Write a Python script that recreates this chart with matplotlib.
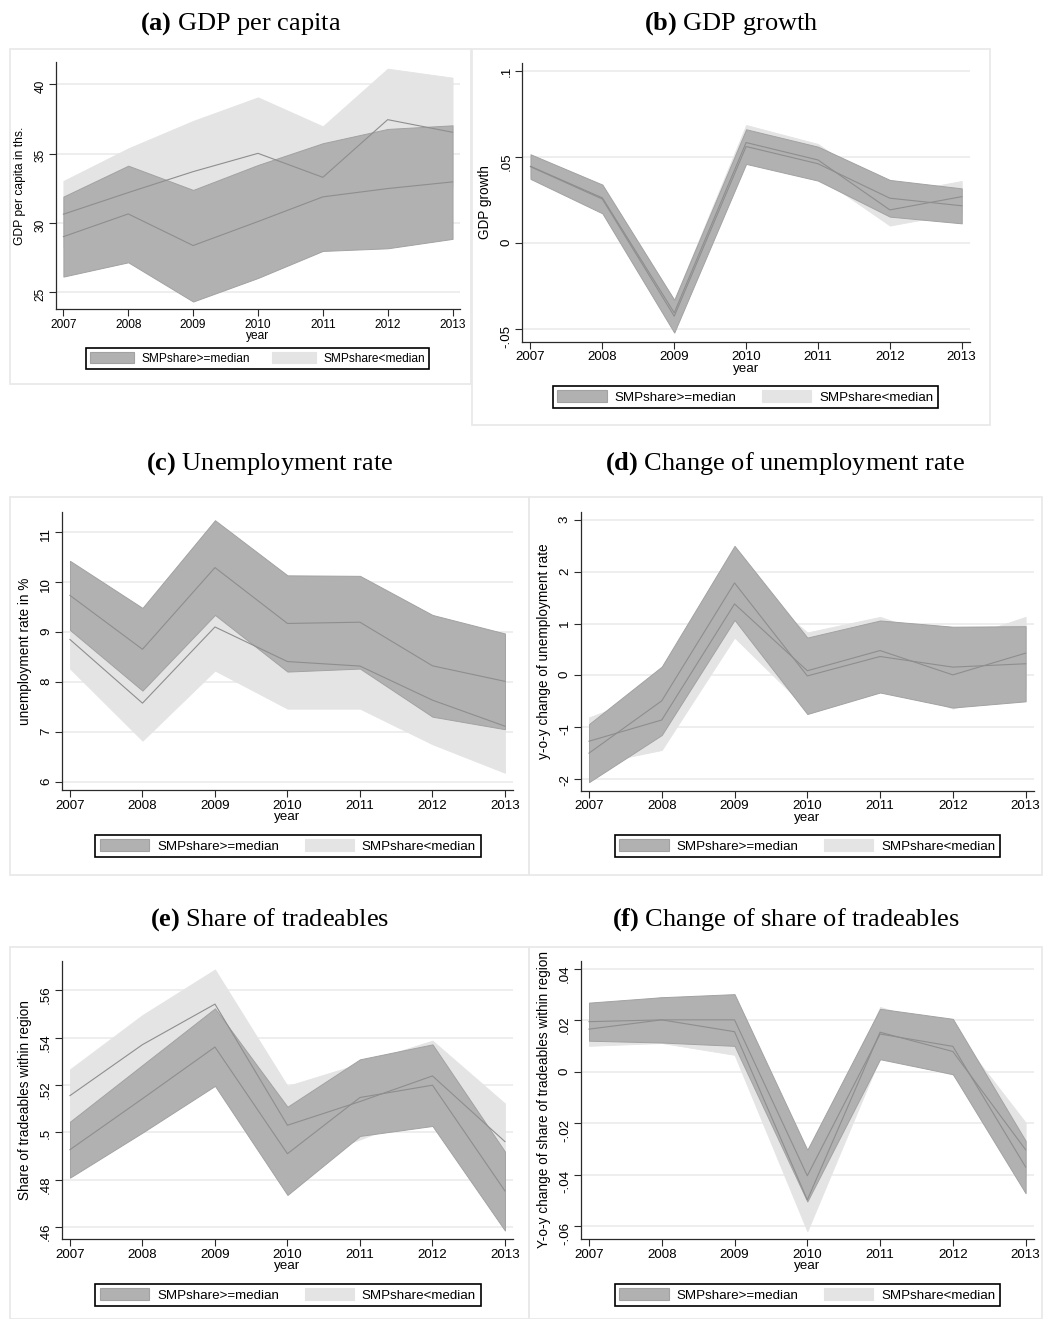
import matplotlib
matplotlib.use("Agg")
import matplotlib.pyplot as plt
from matplotlib.patches import Rectangle, Patch

W, H = 1043, 1319

plt.rcParams['font.family'] = ['Liberation Sans', 'DejaVu Sans']
plt.rcParams['mathtext.fontset'] = 'custom'
plt.rcParams['mathtext.rm'] = 'Liberation Serif'
plt.rcParams['mathtext.bf'] = 'Liberation Serif:bold'

years = [2007, 2008, 2009, 2010, 2011, 2012, 2013]
group_labels = ['SMPshare>=median', 'SMPshare<median']

# (a) GDP per capita, thousands
gdp_above_lo = [26.13, 27.16, 24.33, 26.03, 27.98, 28.17, 28.85]
gdp_above_up = [31.90, 34.13, 32.38, 34.18, 35.75, 36.78, 37.04]
gdp_above_mean = [29.01, 30.65, 28.37, 30.10, 31.88, 32.48, 32.96]
gdp_below_lo = [28.23, 29.00, 30.04, 30.98, 29.61, 33.77, 32.60]
gdp_below_up = [33.03, 35.38, 37.36, 39.06, 36.97, 41.13, 40.48]
gdp_below_mean = [30.63, 32.19, 33.70, 35.02, 33.29, 37.45, 36.54]
gdp_ticks = [25, 30, 35, 40]
gdp_ticklabels = ['25', '30', '35', '40']

# (b) GDP growth
gro_above_lo = [0.0372, 0.0172, -0.0520, 0.0459, 0.0362, 0.0153, 0.0114]
gro_above_up = [0.0515, 0.0339, -0.0330, 0.0660, 0.0559, 0.0366, 0.0317]
gro_above_mean = [0.0443, 0.0255, -0.0425, 0.0560, 0.0460, 0.0260, 0.0216]
gro_below_lo = [0.0385, 0.0192, -0.0480, 0.0481, 0.0389, 0.0101, 0.0178]
gro_below_up = [0.0505, 0.0332, -0.0330, 0.0685, 0.0575, 0.0283, 0.0360]
gro_below_mean = [0.0445, 0.0262, -0.0405, 0.0583, 0.0482, 0.0192, 0.0269]
gro_ticks = [-0.05, 0, 0.05, 0.1]
gro_ticklabels = ['-.05', '0', '.05', '.1']

# (c) unemployment rate
ur_above_lo = [9.04, 7.83, 9.34, 8.21, 8.27, 7.31, 7.06]
ur_above_up = [10.42, 9.48, 11.23, 10.13, 10.12, 9.34, 8.97]
ur_above_mean = [9.73, 8.655, 10.285, 9.17, 9.195, 8.325, 8.015]
ur_below_lo = [8.27, 6.83, 8.23, 7.47, 7.47, 6.76, 6.19]
ur_below_up = [9.43, 8.33, 9.97, 9.35, 9.17, 8.52, 8.05]
ur_below_mean = [8.85, 7.58, 9.10, 8.41, 8.32, 7.64, 7.12]
ur_ticks = [6, 7, 8, 9, 10, 11]
ur_ticklabels = ['6', '7', '8', '9', '10', '11']

# (d) y-o-y change of unemployment rate
dur_above_lo = [-2.06, -1.15, 1.07, -0.745, -0.33, -0.62, -0.50]
dur_above_up = [-0.94, 0.17, 2.50, 0.73, 1.06, 0.94, 0.95]
dur_above_mean = [-1.50, -0.49, 1.785, -0.01, 0.365, 0.16, 0.225]
dur_below_lo = [-1.73, -1.44, 0.73, -0.65, -0.17, -0.64, -0.27]
dur_below_up = [-0.81, -0.28, 2.03, 0.83, 1.13, 0.66, 1.13]
dur_below_mean = [-1.27, -0.86, 1.38, 0.09, 0.48, 0.01, 0.43]
dur_ticks = [-2, -1, 0, 1, 2, 3]
dur_ticklabels = ['-2', '-1', '0', '1', '2', '3']

# (e) share of tradeables
tr_above_lo = [0.4809, 0.4999, 0.5196, 0.4736, 0.4985, 0.5027, 0.4586]
tr_above_up = [0.5045, 0.5284, 0.5523, 0.5108, 0.5308, 0.5371, 0.4919]
tr_above_mean = [0.4927, 0.5142, 0.5360, 0.4910, 0.5147, 0.5199, 0.4753]
tr_below_lo = [0.5044, 0.5245, 0.5395, 0.4864, 0.4970, 0.5089, 0.4800]
tr_below_up = [0.5266, 0.5495, 0.5687, 0.5196, 0.5290, 0.5387, 0.5122]
tr_below_mean = [0.5155, 0.5370, 0.5541, 0.5030, 0.5130, 0.5238, 0.4961]
tr_ticks = [0.46, 0.48, 0.50, 0.52, 0.54, 0.56]
tr_ticklabels = ['.46', '.48', '.5', '.52', '.54', '.56']

# (f) y-o-y change of share of tradeables
dtr_above_lo = [0.0121, 0.0114, 0.0101, -0.0504, 0.0049, -0.0009, -0.0472]
dtr_above_up = [0.0269, 0.0290, 0.0302, -0.0303, 0.0245, 0.0206, -0.0268]
dtr_above_mean = [0.0195, 0.0202, 0.0202, -0.0404, 0.0147, 0.0099, -0.0370]
dtr_below_lo = [0.0101, 0.0112, 0.0066, -0.0620, 0.0056, -0.0011, -0.0409]
dtr_below_up = [0.0231, 0.0292, 0.0246, -0.0376, 0.0252, 0.0169, -0.0197]
dtr_below_mean = [0.0166, 0.0202, 0.0156, -0.0498, 0.0154, 0.0079, -0.0303]
dtr_ticks = [-0.06, -0.04, -0.02, 0, 0.02, 0.04]
dtr_ticklabels = ['-.06', '-.04', '-.02', '0', '.02', '.04']

DARK = '#b1b1b1'
DARK_EDGE = '#a2a2a2'
LIGHT = '#e4e4e4'
LINE = '#8e8e8e'
FRAME = '#e9e9e9'


def fig_rect(l, t, r, b):
    return [l / W, 1 - b / H, (r - l) / W, (b - t) / H]


fig = plt.figure(figsize=(W / 100, H / 100), dpi=100)
fig.patch.set_facecolor('white')


def panel(frame, axpx, title, title_y, ylabel, ylim, ticks, ticklabels,
          above, below, legend_px, scale=1.0):
    fl, ft, fr, fb = frame
    fig.add_artist(Rectangle((fl / W, 1 - fb / H), (fr - fl) / W, (fb - ft) / H,
                             transform=fig.transFigure, fill=False,
                             edgecolor=FRAME, lw=1.3))
    fig.text((fl + fr) / 2 / W, 1 - title_y / H, title, ha='center',
             va='baseline', fontsize=19, family='Liberation Serif')

    ax = fig.add_axes(fig_rect(*axpx))
    ax.set_facecolor('none')
    lo_a, up_a, m_a = above
    lo_b, up_b, m_b = below
    ax.fill_between(years, lo_b, up_b, facecolor=LIGHT, edgecolor=LIGHT,
                    lw=0.6, zorder=2)
    ax.fill_between(years, lo_a, up_a, facecolor=DARK, edgecolor=DARK_EDGE,
                    lw=0.7, zorder=3)
    ax.plot(years, m_b, color=LINE, lw=0.8, zorder=4)
    ax.plot(years, m_a, color=LINE, lw=0.8, zorder=4)

    ax.set_xlim(2006.886, 2013.115)
    ax.set_ylim(*ylim)
    ax.set_xticks(years)
    ax.set_xticklabels([str(y) for y in years])
    ax.set_yticks(ticks)
    ax.set_yticklabels(ticklabels)
    ax.yaxis.grid(True, color='#ebebeb', lw=1.2)
    ax.set_axisbelow(True)
    for side in ('top', 'right'):
        ax.spines[side].set_visible(False)
    for side in ('left', 'bottom'):
        ax.spines[side].set_color('#2a2a2a')
        ax.spines[side].set_linewidth(0.9)
    fs = 9.6 * scale
    ax.tick_params(axis='both', direction='out', length=5, width=0.8,
                   color='#2a2a2a', labelsize=fs, pad=2)
    ax.tick_params(axis='y', labelrotation=90)

    axw = axpx[2] - axpx[0]
    axh = axpx[3] - axpx[1]
    ax.set_ylabel(ylabel, fontsize=9.8 * scale)
    ax.yaxis.set_label_coords(-30 / axw, 0.5)
    ax.set_xlabel('year', fontsize=fs)
    ax.xaxis.set_label_coords(0.5, -21 / axh)

    handles = [Patch(facecolor=DARK, edgecolor=DARK_EDGE, lw=0.8),
               Patch(facecolor=LIGHT, edgecolor=LIGHT, lw=0.8)]
    ll, lt, lr, lb = legend_px
    leg = ax.legend(handles, group_labels, ncol=2, loc='center',
                    bbox_to_anchor=((ll + lr) / 2 / W, 1 - (lt + lb) / 2 / H),
                    bbox_transform=fig.transFigure, frameon=True,
                    fancybox=False, edgecolor='black', framealpha=1,
                    fontsize=9.6 * scale, handlelength=3.7, handleheight=1.0,
                    handletextpad=0.6, columnspacing=1.9, borderpad=0.35,
                    borderaxespad=0)
    leg.get_frame().set_linewidth(1.2)
    return ax


panel((10, 49, 471, 384), (56, 61.7, 460, 309.3),
      r'$\mathbf{(a)}$ GDP per capita', 29.5, 'GDP per capita in ths.',
      (23.77, 41.63), gdp_ticks, gdp_ticklabels,
      (gdp_above_lo, gdp_above_up, gdp_above_mean),
      (gdp_below_lo, gdp_below_up, gdp_below_mean),
      (87, 348, 428, 369), scale=0.89)

panel((472, 49, 990, 425), (522.3, 63.3, 970, 341.7),
      r'$\mathbf{(b)}$ GDP growth', 29.5, 'GDP growth',
      (-0.0573, 0.1043), gro_ticks, gro_ticklabels,
      (gro_above_lo, gro_above_up, gro_above_mean),
      (gro_below_lo, gro_below_up, gro_below_mean),
      (557, 385, 934, 409))

panel((10, 497, 529, 875), (61.7, 511.7, 513.3, 790),
      r'$\mathbf{(c)}$ Unemployment rate', 470, 'unemployment rate in %',
      (5.847, 11.40), ur_ticks, ur_ticklabels,
      (ur_above_lo, ur_above_up, ur_above_mean),
      (ur_below_lo, ur_below_up, ur_below_mean),
      (97, 834, 479, 858))

panel((529, 497, 1042, 875), (580.7, 512.3, 1034, 790.7),
      r'$\mathbf{(d)}$ Change of unemployment rate', 470,
      'y-o-y change of unemployment rate',
      (-2.225, 3.148), dur_ticks, dur_ticklabels,
      (dur_above_lo, dur_above_up, dur_above_mean),
      (dur_below_lo, dur_below_up, dur_below_mean),
      (616, 834, 999, 858))

panel((10, 947, 529, 1319), (61.7, 960.7, 513.3, 1239.3),
      r'$\mathbf{(e)}$ Share of tradeables', 926, 'Share of tradeables within region',
      (0.4549, 0.5724), tr_ticks, tr_ticklabels,
      (tr_above_lo, tr_above_up, tr_above_mean),
      (tr_below_lo, tr_below_up, tr_below_mean),
      (97, 1283, 479, 1307))

panel((529, 947, 1042, 1319), (580.7, 960.7, 1034, 1239.3),
      r'$\mathbf{(f)}$ Change of share of tradeables', 926,
      'Y-o-y change of share of tradeables within region',
      (-0.0651, 0.0432), dtr_ticks, dtr_ticklabels,
      (dtr_above_lo, dtr_above_up, dtr_above_mean),
      (dtr_below_lo, dtr_below_up, dtr_below_mean),
      (616, 1283, 999, 1307))

fig.savefig('out.png', dpi=100, facecolor='white')
